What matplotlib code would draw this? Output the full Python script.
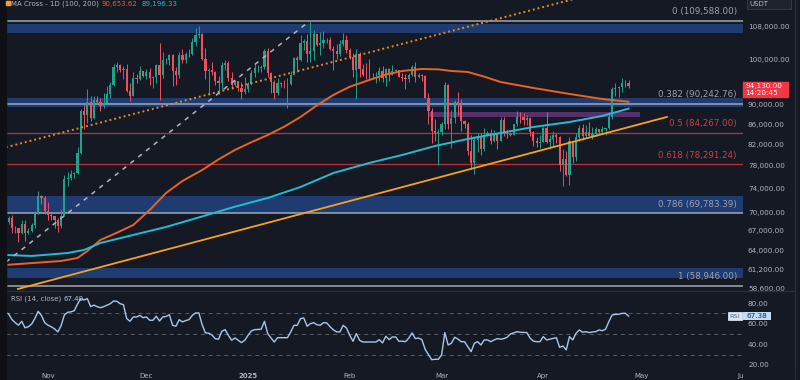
import numpy as np
import matplotlib
matplotlib.use("Agg")
import matplotlib.pyplot as plt
from matplotlib.patches import Rectangle
from matplotlib.ticker import NullLocator
import matplotlib.transforms as mtrans

# ---------------------------------------------------------------------
# Daily BTC/USDT candles, 19 Oct 2024 .. 27 Apr 2025
# ---------------------------------------------------------------------
start_date = "2024-10-19"
end_date = "2025-04-28"

opens = [68420, 68360, 69000, 67370, 67380, 66650, 68160, 66620, 67010, 67930, 69910, 72720, 72340,
         70220, 69500, 69370, 68780, 67800, 69380, 75640, 75900, 76550, 76680,
         80370, 88650, 87950, 90500, 87300, 91050, 90600, 89850, 90450, 92300,
         94300, 98300, 98900, 97650, 97950, 93050, 91950, 95950, 95650, 97450,
         96400, 97200, 95850, 96000, 98750, 96600, 99900, 99950, 101150, 97350,
         96600, 101150, 100000, 101400, 101380, 104300, 106050, 106150, 100200, 97450,
         97750, 97200, 95150, 94700, 98700, 99300, 95800, 94200, 95150, 93550,
         92650, 93400, 94400, 96900, 98100, 98200, 98300, 102100, 96950, 95050,
         92500, 94700, 94550, 94500, 94520, 96550, 100500, 99950, 104100, 104500,
         101300, 102000, 106150, 103650, 103950, 104800, 104700, 102650, 102100, 101300,
         103750, 104750, 102450, 100650, 97700, 101400, 97850, 96600, 96550, 96500,
         96450, 96470, 97450, 95800, 97900, 96600, 97500, 97550, 96100, 95800,
         95550, 96600, 98300, 96150, 96550, 96250, 91550, 88700, 84700, 84350,
         84380, 86050, 94300, 86100, 87200, 90600, 89950, 86750, 86150, 80700,
         78550, 82900, 83700, 81100, 83950, 84350, 82600, 84050, 82700, 86850,
         84200, 84100, 83850, 86100, 87500, 87450, 86900, 87200, 84400, 82650,
         82400, 82550, 85150, 82500, 83100, 83850, 83500, 78200, 79200, 76300,
         82600, 79600, 83400, 85300, 83750, 84550, 83700, 84050, 84950, 84450,
         85050, 85150, 87500, 93450, 93700, 93950, 94700, 94650]

highs = [68700, 69400, 69500, 67800, 67450, 68800, 68700, 67450, 68300, 70200, 73600, 72950, 72700,
         71600, 69900, 69450, 69100, 70500, 76400, 76950, 77200, 76950, 81500,
         89100, 89950, 93300, 91800, 91850, 91800, 91500, 92600, 94000, 94900,
         98950, 99600, 99000, 98600, 98950, 94700, 97200, 96650, 98650, 97500,
         97850, 98150, 96300, 99000, 104000, 101900, 100500, 101400, 101300, 98250,
         101900, 102500, 101900, 102650, 105250, 107800, 108350, 106500, 102800, 98150,
         99550, 97400, 96400, 99400, 99950, 99800, 97300, 95500, 95200, 94900,
         96150, 94950, 97750, 98950, 98700, 98800, 102500, 102700, 97250, 95350,
         95850, 94950, 95400, 95850, 97350, 100700, 100850, 105900, 104950, 106300,
         109590, 107200, 106300, 106850, 107100, 105300, 105450, 103200, 103800, 104800,
         106450, 106050, 102750, 101500, 102550, 101750, 99000, 99200, 100150, 96900,
         97300, 98350, 98500, 98150, 98100, 98800, 97950, 97700, 97050, 96700,
         96900, 98750, 99500, 96900, 96700, 96500, 92500, 89300, 87050, 85100,
         86550, 95050, 94400, 88900, 91000, 92800, 91250, 86850, 86500, 83900,
         83600, 84350, 84300, 85300, 84650, 85050, 84750, 84100, 87450, 87450,
         84750, 84550, 86150, 88750, 88500, 88300, 87800, 87500, 84650, 83550,
         83950, 85500, 88500, 83950, 84700, 84250, 83750, 81250, 80850, 83550,
         82700, 84250, 85850, 86100, 85800, 86450, 85500, 85450, 85100, 85600,
         85300, 88450, 93850, 94700, 94050, 95750, 95300, 95300]

lows = [67900, 68100, 66600, 66600, 65260, 66450, 65500, 66500, 66800, 67500, 69700, 71400, 69700,
        68800, 68800, 67450, 66800, 67400, 69300, 74500, 75500, 75800, 76500,
        80200, 85100, 86200, 86650, 87100, 90100, 88800, 89400, 90400, 91400,
        94100, 97250, 97200, 95700, 92650, 90800, 91800, 94700, 95400, 96100,
        95700, 94300, 93600, 94650, 91000, 95900, 99000, 98700, 94150, 94250,
        95750, 99300, 99200, 100600, 101200, 103300, 105300, 100000, 95700, 92200,
        96450, 94200, 92400, 93400, 97600, 95150, 93300, 94100, 92900, 91300,
        92400, 92750, 94200, 96000, 97200, 97250, 97900, 96100, 92500, 91200,
        92200, 93800, 93700, 89250, 94300, 96500, 97300, 99700, 102300, 99550,
        99450, 100050, 103300, 101250, 102750, 104100, 102450, 97750, 100250, 101000,
        103300, 101550, 100300, 96150, 91250, 96150, 96200, 95700, 95650, 95700,
        94700, 95250, 94850, 94100, 95250, 96450, 97200, 96050, 95200, 93400,
        95000, 96400, 94850, 95750, 95250, 91350, 86050, 82250, 82750, 78250,
        83800, 85050, 85100, 81400, 86350, 87800, 84650, 85200, 80000, 77450,
        76600, 80650, 79950, 80800, 83650, 82050, 82500, 81150, 82600, 83650,
        83200, 83700, 83800, 85550, 86300, 85900, 85850, 83650, 81650, 81600,
        81300, 82450, 82300, 81200, 81650, 82350, 77150, 74500, 76200, 74600,
        78450, 78950, 82750, 82950, 83200, 83600, 83150, 83750, 84150, 84300,
        83950, 85000, 87050, 91950, 91650, 92850, 93900, 93650]

closes = [68360, 69000, 67370, 67380, 66650, 68160, 66620, 67010, 67930, 69910, 72720, 72340, 70220,
          69500, 69370, 68780, 67800, 69380, 75640, 75900, 76550, 76680, 80370,
          88650, 87950, 90500, 87300, 91050, 90600, 89850, 90450, 92300, 94300,
          98300, 98900, 97650, 97950, 93050, 91950, 95950, 95650, 97450, 96400,
          97200, 95850, 96000, 98750, 96600, 99900, 99950, 101150, 97350, 96600,
          101150, 100000, 101400, 101380, 104300, 106050, 106150, 100200, 97450, 97750,
          97200, 95150, 94700, 98700, 99300, 95800, 94200, 95150, 93550, 92650,
          93400, 94400, 96900, 98100, 98200, 98300, 102100, 96950, 95050, 92500,
          94700, 94550, 94500, 94520, 96550, 100500, 99950, 104100, 104500, 101300,
          102000, 106150, 103650, 103950, 104800, 104700, 102650, 102100, 101300, 103750,
          104750, 102450, 100650, 97700, 101400, 97850, 96600, 96550, 96500, 96450,
          96470, 97450, 95800, 97900, 96600, 97500, 97550, 96100, 95800, 95550,
          96600, 98300, 96150, 96550, 96250, 91550, 88700, 84700, 84350, 84380,
          86050, 94300, 86100, 87200, 90600, 89950, 86750, 86150, 80700, 78550,
          82900, 83700, 81100, 83950, 84350, 82600, 84050, 82700, 86850, 84200,
          84100, 83850, 86100, 87500, 87450, 86900, 87200, 84400, 82650, 82400,
          82550, 85150, 82500, 83100, 83850, 83500, 78200, 79200, 76300, 82600,
          79600, 83400, 85300, 83750, 84550, 83700, 84050, 84950, 84450, 85050,
          85150, 87500, 93450, 93700, 93950, 94700, 94650, 94130]

rsi = [71, 69.5, 64, 61, 58.5, 62.3, 56, 57, 59.5, 65, 72, 68, 61,
       58.5, 57, 55, 52, 58, 68.5, 71, 71.5, 72.5, 79,
       84.3, 83, 84.3, 76.5, 78, 76.5, 75.5, 76.5, 78, 79.4,
       82, 81.7, 79.4, 78.4, 65, 62.3, 66.5, 66.5, 68, 65.8,
       66.5, 63.3, 63.3, 67.2, 62.6, 66.5, 67, 68.7, 58.4, 57.5,
       63.9, 61.7, 63, 63.9, 68, 70.4, 70.4, 59, 51, 50.8,
       49, 45.4, 44.9, 52.6, 54.2, 48.7, 43.9, 46.1, 43.9, 41.6,
       43.9, 48.7, 52.9, 54.2, 54.4, 54.6, 62.3, 50.3, 46.1, 42.2,
       46.4, 46.4, 46.4, 46.4, 51.9, 58.4, 58.4, 64.9, 65.5, 57.5,
       60, 61, 59, 58.4, 61, 60.7, 57, 54, 52, 52,
       58.4, 55.8, 48.7, 42.9, 50.3, 43.9, 42.2, 42.2, 42.2, 42.2,
       42.2, 44.5, 41.3, 47.8, 44.5, 47.1, 47.1, 42.9, 43, 42.5,
       46, 51, 45.5, 46, 44.5, 35, 30, 25, 25.4, 25.4,
       29.6, 51.3, 39.3, 41, 46.8, 45, 42.5, 42.5, 37.7, 32.8,
       41, 42.5, 39.3, 44.2, 44.2, 42.5, 44.2, 45.5, 44.9, 45.5,
       46.8, 50, 51, 52.2, 51.7, 51.5, 51.3, 45.9, 43, 42.5,
       42.5, 47.4, 44.2, 44.9, 45.5, 46.4, 37, 38.3, 34.5, 47.4,
       44.2, 50.7, 53.9, 51.7, 52.2, 51.3, 52, 52.2, 53.9, 53.2,
       54.6, 62, 68.4, 69, 69.1, 70, 70.1, 67.4]

# moving averages (day offset from 1 Nov 2024, price)
ma100_days = [-13, 4, 9, 12, 16, 21, 26, 31, 36, 41, 47, 52, 57, 62, 67, 72, 77, 82, 87, 92,
              98, 103, 108, 114, 119, 123, 128, 133, 138, 148, 159, 169, 177]
ma100_vals = [61850, 62430, 62870, 63900, 65590, 66700, 67920, 70350, 73210, 75300, 77260, 79200,
              80970, 82450, 83860, 85500, 87480, 89900, 92100, 93900, 95400, 96600, 97430,
              97880, 97800, 97430, 97200, 96150, 94940, 93630, 92320, 91240, 90650]
ma200_days = [-13, -5, 6, 11, 16, 26, 36, 47, 57, 67, 77, 87, 98, 108, 118, 128, 138, 148, 159, 169, 177]
ma200_vals = [63320, 63170, 63610, 64070, 65120, 66360, 67610, 69300, 70900, 72360, 74250,
              76720, 78550, 80030, 81730, 83090, 84260, 85450, 86450, 87690, 89200]

# Fibonacci retracement
fib_levels = [0, 0.382, 0.5, 0.618, 0.786, 1]
fib_prices = [109588.00, 90242.76, 84267.00, 78291.24, 69783.39, 58946.00]
fib_red = [False, False, True, True, False, False]

# supply / demand zones
zone_lo = [106490, 89450, 69783, 60000]
zone_hi = [108760, 91520, 72700, 61420]
purple_days = [116, 180.5]
purple_lo, purple_hi = 87480, 88510

# drawn trend lines (day, price)
trend_solid = ([-9.15, 188.7], [58470, 87480])
trend_dotted = ([-12.8, 171], [81490, 117800])
trend_dashed = ([-12.8, 79.0], [62270, 109020])

price_ticks = [58600, 61200, 64000, 67000, 70000, 74000, 78000, 82000, 86000, 90000, 100000, 108000]
rsi_ticks = [20, 40, 60, 80]
month_dates = ["2024-11-01", "2024-12-01", "2025-01-01", "2025-02-01",
               "2025-03-01", "2025-04-01", "2025-05-01", "2025-06-01"]
month_labels = ["Nov", "Dec", "2025", "Feb", "Mar", "Apr", "May", "Jun"]

# ---------------------------------------------------------------------
# Styling
# ---------------------------------------------------------------------
BG = "#151924"
TXT = "#b2b5be"
GRAY = "#a3a6af"
RED = "#b8313c"
BLUE = "#1f3c72"
UP = "#22a08c"
DOWN = "#f0505e"

W, H = 800, 380
origin = np.datetime64("2024-11-01")
dates = np.arange(start_date, end_date, dtype="datetime64[D]")
x = (dates - origin).astype(int)
o = np.array(opens, float)
h = np.array(highs, float)
l = np.array(lows, float)
c = np.array(closes, float)

fig = plt.figure(figsize=(W / 100, H / 100), dpi=100)
fig.patch.set_facecolor(BG)

ax = fig.add_axes([6 / W, 1 - 290 / H, 737 / W, 290 / H])
ax2 = fig.add_axes([6 / W, 11 / H, 737 / W, 78 / H])
for a in (ax, ax2):
    a.set_facecolor(BG)
    for s in a.spines.values():
        s.set_visible(False)

ax.set_yscale("log")
ax.set_xlim(-12.8, 211.9)
ax.set_ylim(58330, 115050)
ax2.set_xlim(-12.8, 211.9)
ax2.set_ylim(16.0, 91.7)

# zones and fib levels
for lo, hi in zip(zone_lo, zone_hi):
    ax.axhspan(lo, hi, color=BLUE, lw=0, zorder=1)
ax.fill_between(purple_days, purple_lo, purple_hi, color="#55306c", lw=0, zorder=1)

for lvl, p, red in zip(fib_levels, fib_prices, fib_red):
    col = RED if red else GRAY
    ax.axhline(p, color=col, lw=0.9 if red else 1.1, zorder=2)
    ax.annotate(f"{lvl:g} ({p:,.2f})", xy=(1 - 6 / 737, p),
                xycoords=("axes fraction", "data"), xytext=(0, 6.5),
                textcoords="offset points", ha="right", va="center",
                fontsize=6.3, color="#c8424c" if red else "#9ea1aa", zorder=6)

# candles
colors = np.where(c >= o, UP, DOWN)
ax.vlines(x, l, h, colors=colors, lw=0.7, zorder=3)
body_lo = np.minimum(o, c)
body_h = np.maximum(np.abs(c - o), body_lo * 0.0008)
ax.bar(x, body_h, bottom=body_lo, width=0.66, color=colors, lw=0, zorder=3)

# moving averages
ax.plot(ma100_days, ma100_vals, color="#ec6220", lw=1.4, zorder=4)
ax.plot(ma200_days, ma200_vals, color="#22bcd4", lw=1.4, zorder=4)

# trend lines
ax.plot(*trend_solid, color="#f7a11d", lw=1.3, zorder=5)
ax.plot(*trend_dotted, color="#de8c2a", lw=1.4, ls=(0, (1, 1.5)), zorder=5)
ax.plot(*trend_dashed, color="#b2b5be", lw=1.1, ls=(0, (3, 3.5)), zorder=5)

ax.set_xticks([])
ax.yaxis.tick_right()
ax.yaxis.set_minor_locator(NullLocator())
ax.set_yticks(price_ticks)
ax.set_yticklabels([f"{t:,.2f}" for t in price_ticks])
ax.tick_params(axis="y", length=0, pad=3.6, labelsize=5.2, labelcolor=TXT)

# RSI pane
for lvl in (30, 50, 70):
    ax2.axhline(lvl, color="#5a5e69", lw=0.7, ls=(0, (4, 4)), zorder=1)
ax2.plot(x, rsi, color="#a9c6ec", lw=1.0, zorder=3)
ax2.set_xticks([])
ax2.yaxis.tick_right()
ax2.set_yticks(rsi_ticks)
ax2.set_yticklabels([f"{t:.2f}" for t in rsi_ticks])
ax2.tick_params(axis="y", length=0, pad=3.6, labelsize=5.2, labelcolor=TXT)

bt = mtrans.blended_transform_factory(ax2.transData, ax2.transAxes)
for d, lab in zip(month_dates, month_labels):
    dx = (np.datetime64(d) - origin).astype(int)
    ax2.text(dx, -0.09, lab, transform=bt, ha="center", va="center", fontsize=5,
             color=TXT, fontweight="bold" if lab == "2025" else "normal", clip_on=False)


# ---------------------------------------------------------------------
# Chrome: separators, legend texts, price labels
# ---------------------------------------------------------------------
def fx(px):
    return px / W


def fy(py):
    return 1 - py / H


fig.patches.append(Rectangle((0, 0), fx(5.5), 1, transform=fig.transFigure,
                             color="#0e1016", zorder=10))
fig.lines.append(plt.Line2D([fx(6), fx(6)], [0, 1], transform=fig.transFigure,
                            color="#2a2e39", lw=1, zorder=10))
fig.lines.append(plt.Line2D([fx(6), fx(794)], [fy(290.5), fy(290.5)], transform=fig.transFigure,
                            color="#2a2e39", lw=1, zorder=10))
fig.lines.append(plt.Line2D([fx(794.5), fx(794.5)], [0, 1], transform=fig.transFigure,
                            color="#2a2e39", lw=1, zorder=10))
# mask the cut-off June label
fig.patches.append(Rectangle((fx(744), 0), fx(50), fy(369), transform=fig.transFigure,
                             color=BG, zorder=10))

# top legend
fig.patches.append(Rectangle((fx(6), fy(5)), fx(4), fy(1) - fy(5), transform=fig.transFigure,
                             color="#f0a030", zorder=11))
fig.text(fx(11), fy(5.8), "MA Cross - 1D (100, 200)", fontsize=5, color=TXT, va="baseline", zorder=11)
fig.text(fx(102), fy(5.8), "90,653.62", fontsize=5, color="#ec6220", va="baseline", zorder=11)
fig.text(fx(141), fy(5.8), "89,196.33", fontsize=5, color="#22bcd4", va="baseline", zorder=11)

# USDT box
fig.patches.append(Rectangle((fx(747), fy(9)), fx(44), fy(0) - fy(9) + 0.02,
                             transform=fig.transFigure, facecolor="#1e222d",
                             edgecolor="#3a3e49", lw=0.6, zorder=11))
fig.text(fx(749), fy(4.5), "USDT", fontsize=5, color=TXT, va="center", zorder=12)

# last price box
fig.patches.append(Rectangle((fx(743), fy(97.3)), fx(44.5), fy(81.7) - fy(97.3),
                             transform=fig.transFigure, color="#f23645", zorder=11))
fig.text(fx(745), fy(86), f"{closes[-1]:,.2f}", fontsize=5.2, color="white", va="center", zorder=12)
fig.text(fx(745), fy(93.3), "14:20:45", fontsize=5.2, color="white", va="center", zorder=12)

# RSI legend and value boxes
fig.text(fx(11), fy(299), "RSI (14, close)", fontsize=5, color=TXT, va="center", zorder=11)
fig.text(fx(63), fy(299), f"{rsi[-1]:.2f}", fontsize=5, color="#a9c6ec", va="center", zorder=11)
fig.patches.append(Rectangle((fx(728.3), fy(320)), fx(13.5), fy(311.7) - fy(320),
                             transform=fig.transFigure, facecolor="#d6e6fb",
                             edgecolor="#eef4fd", lw=0.5, zorder=11))
fig.text(fx(735), fy(316), "RSI", fontsize=4.6, color="#55637a", ha="center", va="center", zorder=12)
fig.patches.append(Rectangle((fx(743.3), fy(320)), fx(27.7), fy(311.7) - fy(320),
                             transform=fig.transFigure, facecolor="#c2dbf8", lw=0, zorder=11))
fig.text(fx(757), fy(316), "67.38", fontsize=5.2, color="#1c2638", ha="center", va="center", zorder=12)

fig.savefig("out.png", dpi=100, facecolor=BG)
